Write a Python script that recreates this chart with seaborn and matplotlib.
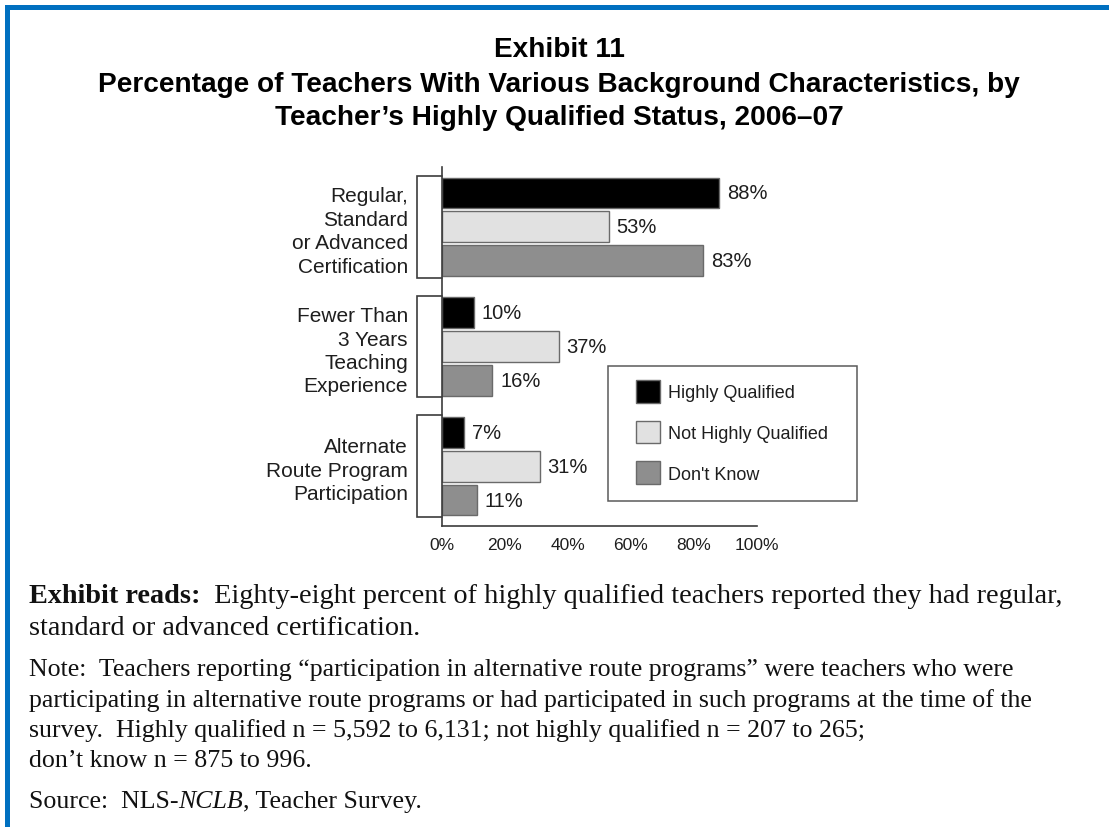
import numpy as np
import pandas as pd
import matplotlib
matplotlib.use("Agg")
import matplotlib.pyplot as plt
import matplotlib.patches as mpatches
import seaborn as sns

# Dados do grafico
categories = ["Regular,\nStandard\nor Advanced\nCertification",
              "Fewer Than\n3 Years\nTeaching\nExperience",
              "Alternate\nRoute Program\nParticipation"]
statuses = ["Highly Qualified", "Not Highly Qualified", "Don't Know"]
highly_qualified = [88, 10, 7]
not_highly_qualified = [53, 37, 31]
dont_know = [83, 16, 11]
x_ticks = [0, 20, 40, 60, 80, 100]
x_tick_labels = ["0%", "20%", "40%", "60%", "80%", "100%"]

colors = ["#000000", "#e1e1e1", "#8e8e8e"]
TEXT = "#1e1e1e"
LINE = "#3c3c3c"
BLUE = "#0070c0"

W, H = 1109, 828
GROUP_WIDTH = 0.85

sns.set_theme(style="white")
plt.rcParams["font.family"] = ["Liberation Sans", "DejaVu Sans"]

df = pd.DataFrame({
    "category": np.repeat(categories, len(statuses)),
    "status": statuses * len(categories),
    "pct": [v for trio in zip(highly_qualified, not_highly_qualified, dont_know) for v in trio],
})

fig = plt.figure(figsize=(W / 100, H / 100), dpi=100)
fig.patch.set_facecolor("white")

# eixo principal em pixels da imagem
ax_left, ax_right, ax_top, ax_bottom = 442, 757, 168, 527
ax = fig.add_axes([ax_left / W, 1 - ax_bottom / H, (ax_right - ax_left) / W, (ax_bottom - ax_top) / H])

sns.barplot(data=df, x="pct", y="category", hue="status", hue_order=statuses,
            order=categories, palette=colors, width=GROUP_WIDTH, gap=0.09,
            edgecolor="#6a6a6a", linewidth=1.0, saturation=1, ax=ax)

handles, labels = ax.get_legend_handles_labels()
ax.get_legend().remove()

for cont in ax.containers:
    ax.bar_label(cont, fmt="%d%%", padding=5.5, fontsize=14.5, color=TEXT)

ax.set_xlim(0, 100)
ax.set_ylim(len(categories) - 0.5, -0.5)
ax.set_xticks(x_ticks)
ax.set_xticklabels(x_tick_labels, fontsize=12.5, color=TEXT)
ax.set_yticks(range(len(categories)))
ax.set_yticklabels(categories, fontsize=15, color=TEXT)
for lab in ax.get_yticklabels():
    lab.set_linespacing(1.3)
ax.tick_params(axis="x", length=0, pad=8)
ax.tick_params(axis="y", length=0, pad=24.5)
ax.set_xlabel("")
ax.set_ylabel("")
for side in ["top", "right"]:
    ax.spines[side].set_visible(False)
for side in ["left", "bottom"]:
    ax.spines[side].set_color(LINE)
    ax.spines[side].set_linewidth(1.2)

# colchetes ao lado de cada grupo
bracket_x = -25 / (ax_right - ax_left) * 100
half = GROUP_WIDTH / 2
for i in range(len(categories)):
    ax.plot([0, bracket_x, bracket_x, 0], [i - half, i - half, i + half, i + half],
            color=LINE, lw=1.2, clip_on=False, solid_joinstyle="miter")

# legenda com moldura propria
box = mpatches.Rectangle((608 / W, 1 - 502 / H), (857 - 608) / W, (502 - 367) / H,
                         transform=fig.transFigure, fill=False, edgecolor="#5a5a5a", lw=1.1)
fig.patches.append(box)
fig.legend(handles, labels, loc="upper left", bbox_to_anchor=(636 / W, 1 - 381 / H),
           frameon=False, borderpad=0, borderaxespad=0, fontsize=13,
           handlelength=1.33, handleheight=1.55, labelspacing=1.0, handletextpad=0.45,
           labelcolor=TEXT)

# moldura azul
fig.patches.append(mpatches.Rectangle((5 / W, 1 - 11 / H), 1, 5 / H, transform=fig.transFigure,
                                      facecolor=BLUE, edgecolor="none"))
fig.patches.append(mpatches.Rectangle((5 / W, 0), 5 / W, 1 - 6 / H, transform=fig.transFigure,
                                      facecolor=BLUE, edgecolor="none"))

# titulo
title_lines = ["Exhibit 11",
               "Percentage of Teachers With Various Background Characteristics, by",
               "Teacher\u2019s Highly Qualified Status, 2006\u201307"]
for txt, base in zip(title_lines, [57, 92, 125]):
    fig.text(559 / W, 1 - base / H, txt, ha="center", va="baseline",
             fontsize=20.2, fontweight="bold", color="#000000")

# texto de rodape em fonte serifada
SERIF = ["Liberation Serif", "DejaVu Serif"]
FS_READS = 20.3
FS_NOTE = 18.6


def put_runs(x_px, base_px, runs, size):
    """Escreve trechos de texto encadeados na mesma linha"""
    first_txt, first_kw = runs[0]
    anchor = fig.text(x_px / W, 1 - base_px / H, first_txt, ha="left", va="baseline",
                      family=SERIF, fontsize=size, color="#111111", **first_kw)
    for txt, kw in runs[1:]:
        anchor = ax.annotate(txt, xy=(1, 0), xycoords=anchor, ha="left", va="bottom",
                             family=SERIF, fontsize=size, color="#111111",
                             annotation_clip=False, **kw)


put_runs(29, 603, [("Exhibit reads:", {"fontweight": "bold"}),
                   ("  Eighty-eight percent of highly qualified teachers reported they had regular,", {})],
         FS_READS)
put_runs(29, 635, [("standard or advanced certification.", {})], FS_READS)
put_runs(29, 676, [("Note:  Teachers reporting \u201cparticipation in alternative route programs\u201d were teachers who were", {})], FS_NOTE)
put_runs(29, 707, [("participating in alternative route programs or had participated in such programs at the time of the", {})], FS_NOTE)
put_runs(29, 737, [("survey.  Highly qualified n = 5,592 to 6,131; not highly qualified n = 207 to 265;", {})], FS_NOTE)
put_runs(29, 767, [("don\u2019t know n = 875 to 996.", {})], FS_NOTE)
put_runs(29, 808, [("Source:  NLS-", {}), ("NCLB", {"fontstyle": "italic"}), (", Teacher Survey.", {})], FS_NOTE)

fig.savefig("out.png", dpi=100, facecolor="white")
